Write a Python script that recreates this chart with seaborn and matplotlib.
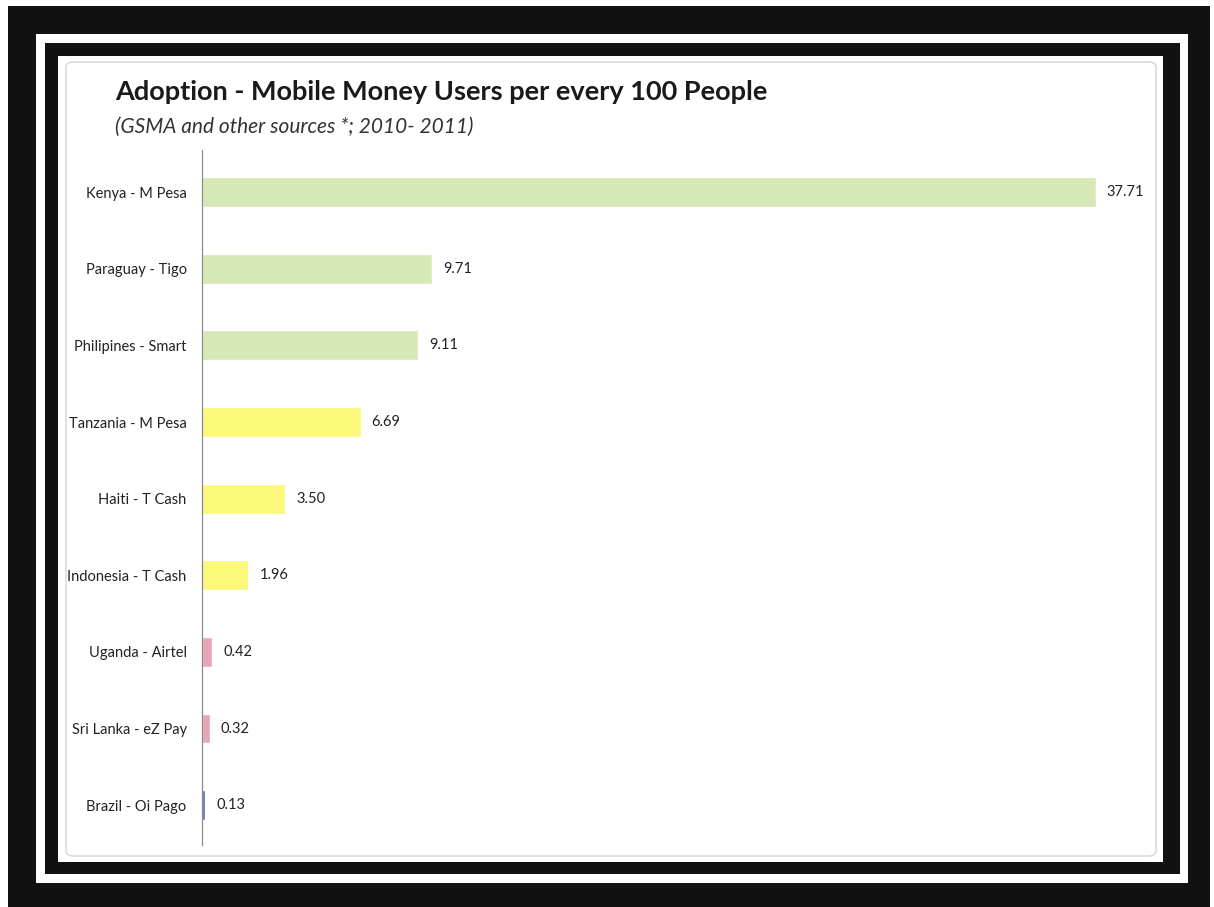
import matplotlib
matplotlib.use("Agg")
import matplotlib.pyplot as plt
import seaborn as sns
from matplotlib.patches import Rectangle, FancyBboxPatch

categories = ["Kenya - M Pesa", "Paraguay - Tigo", "Philipines - Smart", "Tanzania - M Pesa",
              "Haiti - T Cash", "Indonesia - T Cash", "Uganda - Airtel", "Sri Lanka - eZ Pay",
              "Brazil - Oi Pago"]
values = [37.71, 9.71, 9.11, 6.69, 3.50, 1.96, 0.42, 0.32, 0.13]
bar_colors = ["#d6e8b4", "#d6e8b4", "#d6e8b4", "#fbf87a", "#fbf87a", "#fbf87a",
              "#e6a6b6", "#e6a6b6", "#4a62c4"]
title = "Adoption - Mobile Money Users per every 100 People"
subtitle = "(GSMA and other sources *; 2010- 2011)"

sns.set_theme(style="white")
plt.rcParams['font.family'] = ['Lato', 'DejaVu Sans']

W, H = 1214, 907
fig = plt.figure(figsize=(W / 100, H / 100), dpi=100)
fig.patch.set_facecolor("white")

def frect(x0, y0, x1, y1, **kw):
    # pixel coords from top-left
    return Rectangle((x0 / W, 1 - y1 / H), (x1 - x0) / W, (y1 - y0) / H,
                     transform=fig.transFigure, **kw)

fig.patches.append(frect(8, 6, 1210, 907, facecolor="#111111", edgecolor="none", zorder=0))
fig.patches.append(frect(36, 34, 1188, 883, facecolor="white", edgecolor="none", zorder=1))
fig.patches.append(frect(45, 43, 1180, 874, facecolor="#111111", edgecolor="none", zorder=2))
fig.patches.append(frect(58, 56, 1163, 862, facecolor="white", edgecolor="none", zorder=3))
fig.patches.append(FancyBboxPatch((66 / W, 1 - 856 / H), (1156 - 66) / W, (856 - 62) / H,
                                  boxstyle="round,pad=0,rounding_size=0.006",
                                  transform=fig.transFigure, facecolor="none",
                                  edgecolor="#d4d4d4", linewidth=1.0, zorder=4))

left, right, top, bottom = 202, 1150, 150, 845
ax = fig.add_axes([left / W, 1 - bottom / H, (right - left) / W, (bottom - top) / H])
ax.set_zorder(5)
ax.patch.set_alpha(0)

sns.barplot(x=values, y=categories, hue=categories, palette=bar_colors, legend=False,
            orient="h", width=0.39, ax=ax, saturation=1)

for cont in ax.containers:
    ax.bar_label(cont, fmt="%.2f", padding=8, fontsize=10.5, color="#222222")

ax.set_xlim(0, 40)
ax.set_ylim(8.52, -0.55)
ax.set_xticks([])
ax.set_xlabel("")
ax.set_ylabel("")
for s in ["top", "right", "bottom"]:
    ax.spines[s].set_visible(False)
ax.spines["left"].set_color("#8a8a8a")
ax.spines["left"].set_linewidth(0.9)
ax.tick_params(axis="y", length=0, pad=11, labelsize=10.5, labelcolor="#222222")

fig.text(115 / W, 1 - 92 / H, title, fontsize=19.5, fontweight="bold", color="#1a1a1a",
         va="center", ha="left", zorder=6)
fig.text(115 / W, 1 - 127 / H, subtitle, fontsize=15, fontstyle="italic", color="#333333",
         va="center", ha="left", zorder=6)

fig.savefig("out.png", dpi=100)
